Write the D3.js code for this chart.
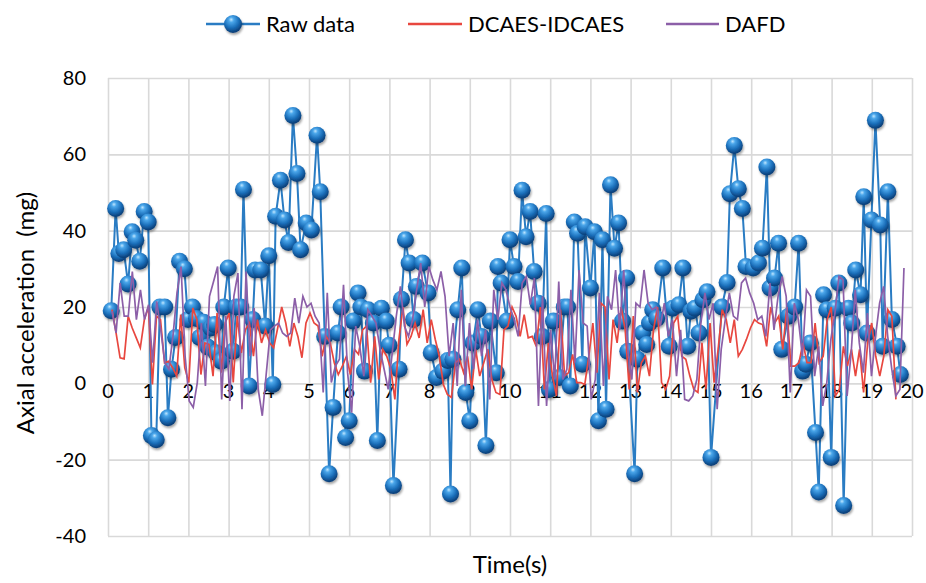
<!DOCTYPE html>
<html>
<head>
<meta charset="utf-8">
<script src="https://cdn.jsdelivr.net/npm/d3@7/dist/d3.min.js"></script>
<style>
  body { margin: 0; background: #fff; }
  svg { display: block; font-family: Lato, 'Open Sans', sans-serif; }
</style>
</head>
<body>
<svg id="chart"></svg>
<script>
const rawTime = [0.08,0.19,0.27,0.39,0.50,0.60,0.69,0.79,0.90,1.00,1.08,1.20,1.29,1.41,1.49,1.58,1.68,1.78,1.90,1.99,
  2.10,2.20,2.28,2.38,2.48,2.56,2.65,2.69,2.82,2.88,2.99,3.11,3.19,3.30,3.37,3.51,3.60,3.66,3.80,3.91,
  4.00,4.10,4.17,4.29,4.39,4.49,4.60,4.70,4.79,4.93,5.06,5.20,5.28,5.39,5.50,5.60,5.72,5.80,5.91,6.00,
  6.10,6.22,6.29,6.38,6.47,6.60,6.70,6.80,6.92,6.99,7.10,7.24,7.30,7.40,7.49,7.60,7.67,7.82,7.96,8.04,
  8.17,8.33,8.45,8.52,8.58,8.70,8.80,8.90,9.00,9.08,9.20,9.29,9.40,9.51,9.66,9.70,9.78,9.92,10.00,10.10,
  10.20,10.30,10.40,10.50,10.60,10.70,10.80,10.90,10.98,11.08,11.23,11.35,11.43,11.50,11.60,11.68,11.80,11.87,12.00,12.10,
  12.20,12.30,12.39,12.50,12.60,12.70,12.80,12.90,12.93,13.10,13.17,13.30,13.40,13.47,13.55,13.65,13.80,13.96,14.05,14.20,
  14.30,14.42,14.50,14.60,14.70,14.80,14.90,15.00,15.27,15.40,15.47,15.58,15.68,15.78,15.87,16.05,16.18,16.28,16.39,16.47,
  16.58,16.68,16.76,16.93,17.08,17.18,17.28,17.36,17.47,17.60,17.68,17.80,17.88,17.99,18.09,18.18,18.30,18.42,18.50,18.60,
  18.72,18.80,18.88,18.99,19.09,19.21,19.27,19.40,19.50,19.63,19.71];
const rawValue = [19,45.8,34,35,26,39.7,37.5,32,45,42.3,-13.7,-14.8,20,20,-9,3.7,12,32,30,16.7,
  20,17,12,16,9.5,14.5,15.4,8,5.8,20,30.2,8.4,20,20,50.8,-0.7,16.7,29.7,29.7,15,
  33.4,-0.3,43.8,53.2,42.8,36.9,70.2,55,35,42,40.2,65,50.2,12.3,-23.7,-6.3,13.2,20,-14.2,-9.8,
  16.3,23.7,20,3.2,19.3,15.8,-15,19.7,16.3,10,-26.8,3.7,22,37.6,31.5,16.7,25.4,31.5,23.7,8,
  1.5,3.2,6,-29,6.3,19.3,30.2,-2.4,-9.8,10.6,19.3,12.3,-16.3,16.3,2.8,30.6,26.3,16.3,37.6,30.6,
  26.7,50.6,38.4,45,29.3,21,12.3,44.5,-1.6,16.3,1.5,20,20,-0.7,42.3,39.3,5,41,25,39.7,
  -9.8,37.6,-6.8,52,35.4,42,16.3,27.6,8.4,-23.7,6.3,13.2,10.2,15.8,19.3,17,30.2,9.7,19.7,20.6,
  30.2,9.7,18.9,19.7,13.2,21.9,24,-19.4,20,26.4,49.7,62.3,51,45.8,30.6,30.2,31.5,35.4,56.7,25,
  27.6,36.7,8.9,17.6,20,36.7,3.2,5,10.6,-12.9,-28.5,23.2,19.3,-19.4,19.7,26.3,-32,19.7,15.8,29.7,
  23.2,48.9,13.2,42.8,68.9,41.5,9.7,50.2,16.7,9.7,2.3];

// DCAES-IDCAES, evenly sampled between dcaesSpan
const dcaesSpan = [0.1, 19.6];
const dcaesValue = [19.3,13.2,6.7,6.4,17.6,14.5,11.9,9.3,16.7,20,-0.3,17.6,16.7,5.4,5.8,4.1,1.9,18,4.1,0.2,
  19.7,16.7,2.3,10.6,10.2,1.9,18.4,2.8,15.8,18.4,0.2,17.6,8,14,15.8,7.1,16.7,10.6,14,10.6,
  9.3,14.5,20,15.8,9.7,15.8,12.3,6.7,15.8,18.4,
  15.8,15,7.1,12.3,10.6,5.4,2.3,4.5,7.1,2.3,8.9,7.6,14,15,0.2,12.3,1,8.9,7.1,3.7,
  -4.2,11.5,20,10.2,12.3,15.8,11.9,19.3,10.6,16.7,11.5,7.1,-0.3,-2.9,-3.7,5.4,6.3,2.8,7.1,-1.6,
  8.9,1.9,5.4,8.9,1,-2.4,-2.9,14,15,20,
  17.6,12.3,18,11.9,12.3,9.7,20,-1.6,10.6,1.9,-3.3,19.3,1.9,2.8,7.6,0.2,0.2,-0.3,7.1,15.8,
  2.8,21,20,1,16.7,10.6,20,14,-1.6,17.6,-2.4,5.4,7.1,1.9,14,20,0.2,-1.6,1.9,15.8,
  17.6,7.1,6.3,1.9,-1.6,-2.4,10.6,-1.6,15.8,
  0.2,8.9,19.3,16.7,10.6,16.7,7.1,8.9,11.5,14.5,16.7,15.8,15.4,9.7,20,15.8,17.6,8.9,20,4.5,
  4.5,5.4,10.6,5.4,5.4,15.8,5.4,7.1,16.7,20,-3.3,-1.6,9.7,4.5,8.9,1.9,8.9,-2.4,10.6,15.8,
  7.1,1.9,7.1,19.3,17.6,-4.2];

// DAFD, evenly sampled between dafdSpan
const dafdSpan = [0.1, 19.8];
const dafdValue = [18.9,13.2,26.3,17.6,17.6,29.3,16.7,24.5,16.7,20.6,5.4,21.5,14,5.4,3.7,12.3,23.7,30.6,7.1,-4.6,
  -6.3,0.2,15.8,-0.7,22.8,26.7,30.6,-4.2,17.6,-4.6,22.8,28.9,-6.8,29.3,7.1,19.7,-1.6,-8.5,2.8,14,
  15,15.8,13.2,12.3,13.2,22.3,15.8,22.8,20,
  21,17.6,15.8,-2.4,23.7,0.2,4.5,6.3,25.8,2.8,-7.7,15,9.7,1.9,19.3,17.6,15.8,8.9,3.7,-1.6,
  8,17.6,25.4,15,12.3,16.7,24.5,31.5,20,30.6,27.1,24.5,29.3,22.8,7.1,15.8,-0.7,24.5,-0.7,15.8,
  3.7,16.7,7.1,14,-4.2,24.5,16.7,26.3,24.5,
  20,16.7,12.3,26.3,28,20.6,27.6,-5.9,22.8,-5.9,14,1,26.7,1,3.7,24.5,5.4,29.7,15.8,15,
  -4.2,1,23.7,-0.7,22.8,19.3,29.7,14,29.7,8.9,1,21,20,29.7,21,19.3,20,15,21,12.3,
  16.7,1.9,14,-4.2,-4.6,-3.3,1,15.8,23.7,16.7,
  21,-6.8,8.9,16.7,23.7,17.6,16.7,26.3,27.6,23.7,21,16.7,17.6,12.3,26.3,14,22.8,28,22.8,-2.4,
  21,16.7,7.1,24.5,22.8,1.9,9.7,-5.9,0.2,11.5,18.4,28,27.1,-3.3,8,24.5,10.6,2.8,18.4,1.9,
  12.3,21,25.4,12.3,3.7,-3.3,-1.6,30.2];

const xTicks = d3.range(0, 21);
const yTicks = [-40, -20, 0, 20, 40, 60, 80];
const seriesNames = ['Raw data', 'DCAES-IDCAES', 'DAFD'];

const width = 926, height = 583;
const margin = { top: 78, right: 14, bottom: 47, left: 108 };
const blue = '#2a7cc3', red = '#e8473f', purple = '#8c5fa8', gridColor = '#d9d9d9';

const svg = d3.select('#chart').attr('width', width).attr('height', height);

const x = d3.scaleLinear().domain([0, 20]).range([margin.left, width - margin.right]);
const y = d3.scaleLinear().domain([-40, 80]).range([height - margin.bottom, margin.top]);

// sphere marker look
const defs = svg.append('defs');
const grad = defs.append('radialGradient').attr('id', 'ball')
  .attr('cx', '42%').attr('cy', '32%').attr('r', '65%').attr('fx', '40%').attr('fy', '25%');
grad.append('stop').attr('offset', '0%').attr('stop-color', '#bfe6ff');
grad.append('stop').attr('offset', '22%').attr('stop-color', '#4aa6ea');
grad.append('stop').attr('offset', '65%').attr('stop-color', '#1a6db8');
grad.append('stop').attr('offset', '100%').attr('stop-color', '#0b3f78');
const shadow = defs.append('filter').attr('id', 'shadow')
  .attr('x', '-50%').attr('y', '-50%').attr('width', '200%').attr('height', '200%');
shadow.append('feDropShadow').attr('dx', 1).attr('dy', 2).attr('stdDeviation', 1.3)
  .attr('flood-color', '#000').attr('flood-opacity', 0.35);

// gridlines
svg.append('g')
  .attr('transform', `translate(0,${height - margin.bottom})`)
  .call(d3.axisBottom(x).tickValues(xTicks).tickSize(-(height - margin.top - margin.bottom)).tickFormat(''))
  .call(g => g.select('.domain').remove())
  .call(g => g.selectAll('line').attr('stroke', gridColor).attr('stroke-width', 1.6));
svg.append('g')
  .attr('transform', `translate(${margin.left},0)`)
  .call(d3.axisLeft(y).tickValues(yTicks).tickSize(-(width - margin.left - margin.right)).tickFormat(''))
  .call(g => g.select('.domain').remove())
  .call(g => g.selectAll('line').attr('stroke', gridColor).attr('stroke-width', 1.6));

// tick labels (x labels sit under the zero line)
svg.append('g').selectAll('text').data(yTicks).join('text')
  .attr('x', margin.left - 22).attr('y', d => y(d) + 7)
  .attr('text-anchor', 'end').attr('font-size', 20).attr('fill', '#000')
  .text(d => d);
svg.append('g').selectAll('text').data(xTicks).join('text')
  .attr('x', d => x(d)).attr('y', y(0) + 15)
  .attr('text-anchor', 'middle').attr('font-size', 20).attr('fill', '#000')
  .text(d => d);

// axis titles
svg.append('text')
  .attr('transform', `translate(34,${(margin.top + height - margin.bottom) / 2 + 6}) rotate(-90)`)
  .attr('text-anchor', 'middle').attr('font-size', 24).attr('fill', '#000')
  .style('white-space', 'pre')
  .text('Axial acceleration  (mg)');
svg.append('text')
  .attr('x', (margin.left + width - margin.right) / 2).attr('y', 573)
  .attr('text-anchor', 'middle').attr('font-size', 24).attr('fill', '#000')
  .text('Time(s)');

// raw data line + markers
const rawPoints = rawTime.map((t, i) => [t, rawValue[i]]);
const line = d3.line().x(d => x(d[0])).y(d => y(d[1]));
svg.append('path').datum(rawPoints)
  .attr('d', line).attr('fill', 'none').attr('stroke', blue).attr('stroke-width', 2);
svg.append('g').attr('filter', 'url(#shadow)')
  .selectAll('circle').data(rawPoints).join('circle')
  .attr('cx', d => x(d[0])).attr('cy', d => y(d[1])).attr('r', 8.5)
  .attr('fill', 'url(#ball)');

// the two filtered series
function evenPoints(values, span) {
  const t = d3.scaleLinear().domain([0, values.length - 1]).range(span);
  return values.map((v, i) => [t(i), v]);
}
svg.append('path').datum(evenPoints(dcaesValue, dcaesSpan))
  .attr('d', line).attr('fill', 'none').attr('stroke', red).attr('stroke-width', 1.7);
svg.append('path').datum(evenPoints(dafdValue, dafdSpan))
  .attr('d', line).attr('fill', 'none').attr('stroke', purple).attr('stroke-width', 1.7);

// legend
const legend = svg.append('g').attr('font-size', 22);
const ly = 24;
legend.append('line').attr('x1', 206).attr('x2', 260).attr('y1', ly).attr('y2', ly)
  .attr('stroke', blue).attr('stroke-width', 2.5);
legend.append('circle').attr('cx', 233).attr('cy', ly).attr('r', 9)
  .attr('fill', 'url(#ball)').attr('filter', 'url(#shadow)');
legend.append('text').attr('x', 266).attr('y', ly + 8).text(seriesNames[0]);
legend.append('line').attr('x1', 408).attr('x2', 462).attr('y1', ly).attr('y2', ly)
  .attr('stroke', red).attr('stroke-width', 2.5);
legend.append('text').attr('x', 468).attr('y', ly + 8).text(seriesNames[1]);
legend.append('line').attr('x1', 666).attr('x2', 719).attr('y1', ly).attr('y2', ly)
  .attr('stroke', purple).attr('stroke-width', 2.5);
legend.append('text').attr('x', 725).attr('y', ly + 8).text(seriesNames[2]);
</script>
</body>
</html>
